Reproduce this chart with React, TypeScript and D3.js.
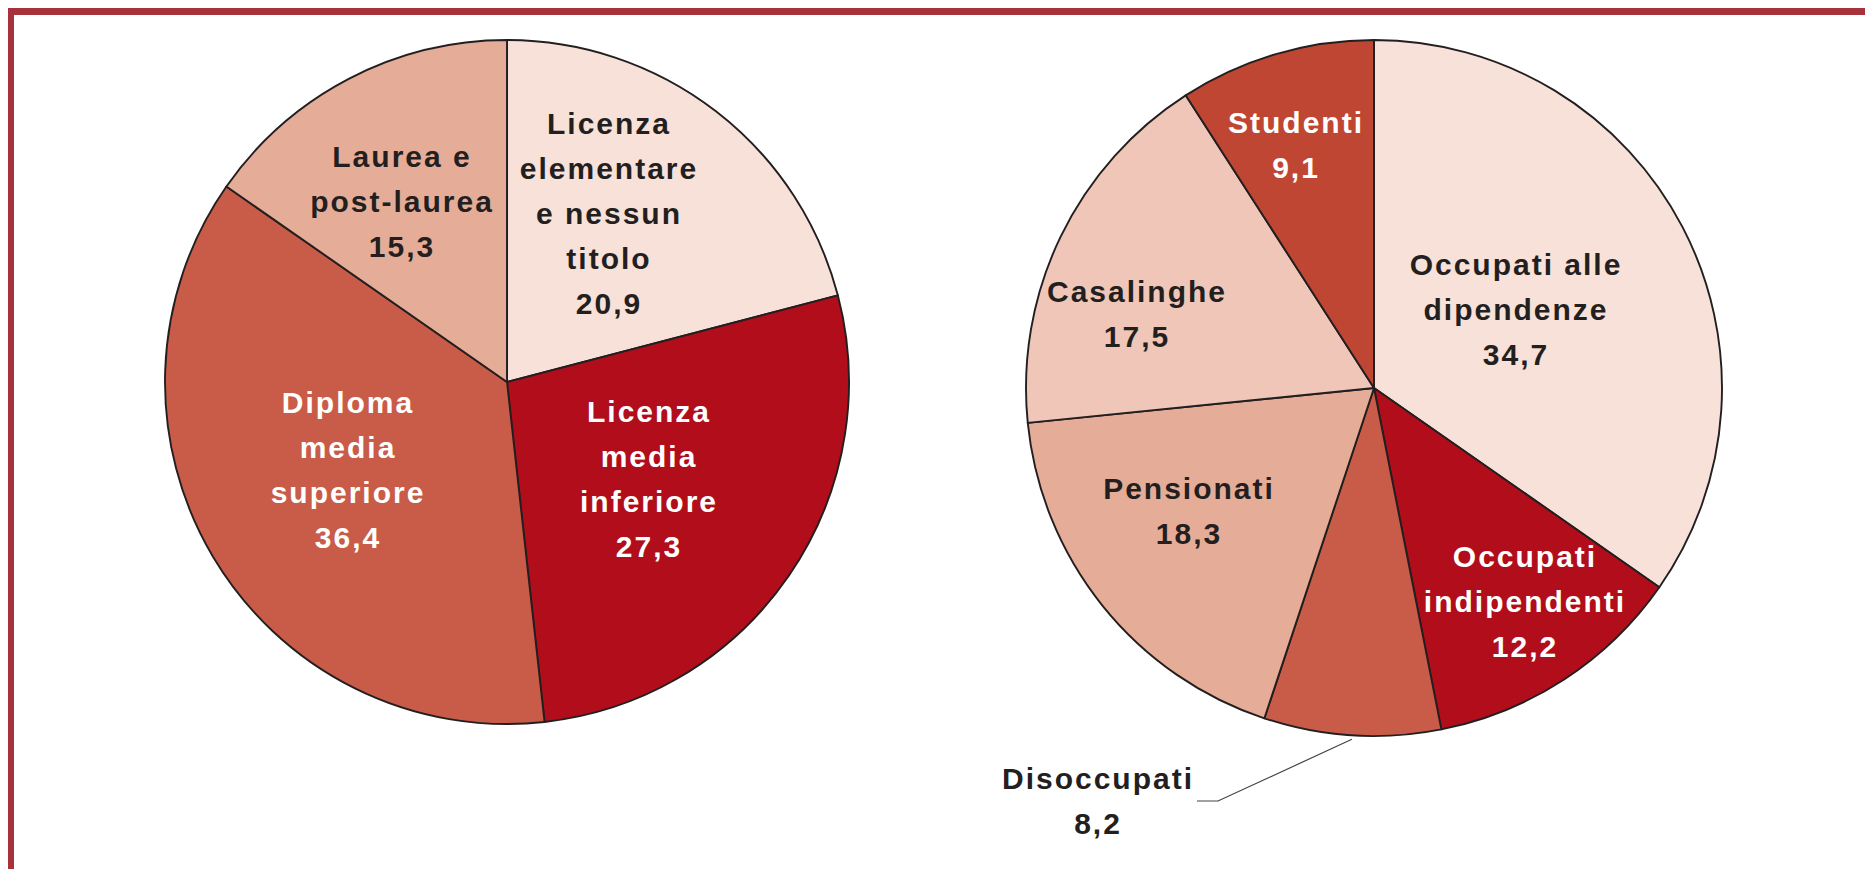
import React from "react";
import * as d3 from "d3";

// ---- Data ----
const eduCategories = [
  "Licenza elementare e nessun titolo",
  "Licenza media inferiore",
  "Diploma media superiore",
  "Laurea e post-laurea",
];
const eduValues = [20.9, 27.3, 36.4, 15.3];
const eduLines = [
  ["Licenza", "elementare", "e nessun", "titolo"],
  ["Licenza", "media", "inferiore"],
  ["Diploma", "media", "superiore"],
  ["Laurea e", "post-laurea"],
];

const condCategories = [
  "Occupati alle dipendenze",
  "Occupati indipendenti",
  "Disoccupati",
  "Pensionati",
  "Casalinghe",
  "Studenti",
];
const condValues = [34.7, 12.2, 8.2, 18.3, 17.5, 9.1];
const condLines = [
  ["Occupati alle", "dipendenze"],
  ["Occupati", "indipendenti"],
  ["Disoccupati"],
  ["Pensionati"],
  ["Casalinghe"],
  ["Studenti"],
];

// ---- Styles / layout ----
const eduColors = ["#f7e1d9", "#b10d1b", "#c95c48", "#e5ad98"];
const eduText = ["#231f20", "#ffffff", "#ffffff", "#231f20"];
// label centre offsets from pie centre (first line)
const eduLabelPos = [
  [102, -259],
  [142, 29],
  [-159, 20],
  [-105, -226],
];

const condColors = ["#f7e1d9", "#b10d1b", "#c95c48", "#e5ad98", "#efc6b8", "#c04634"];
const condText = ["#231f20", "#ffffff", "#231f20", "#231f20", "#231f20", "#ffffff"];
const condLabelPos = [
  [142, -124],
  [151, 168],
  [-276, 390],
  [-185, 100],
  [-237, -97],
  [-78, -266],
];

const fmt = (v: number) => v.toFixed(1).replace(".", ",");

const LINE_H = 45;

function Pie({
  cx,
  cy,
  r,
  values,
  colors,
  textColors,
  lines,
  labelPos,
}: {
  cx: number;
  cy: number;
  r: number;
  values: number[];
  colors: string[];
  textColors: string[];
  lines: string[][];
  labelPos: number[][];
}) {
  const pie = d3.pie<number>().sort(null).value((d) => d);
  const arcs = pie(values);
  const arc = d3.arc<d3.PieArcDatum<number>>().innerRadius(0).outerRadius(r);
  return (
    <g transform={`translate(${cx},${cy})`}>
      {arcs.map((a, i) => (
        <path
          key={i}
          d={arc(a) || ""}
          fill={colors[i]}
          stroke="#231f20"
          strokeWidth={1.9}
          strokeLinejoin="round"
        />
      ))}
      {arcs.map((a, i) => {
        const ls = [...lines[i], fmt(values[i])];
        const [lx, ly] = labelPos[i];
        return (
          <text
            key={"t" + i}
            x={lx}
            y={ly}
            fill={textColors[i]}
            textAnchor="middle"
            fontFamily="'Liberation Sans', Arial, sans-serif"
            fontWeight="bold"
            fontSize={30}
            letterSpacing={2}
          >
            {ls.map((s, j) => (
              <tspan key={j} x={lx} y={ly + j * LINE_H} dy="0.35em">
                {s}
              </tspan>
            ))}
          </text>
        );
      })}
    </g>
  );
}

export default function App() {
  const W = 1865;
  const H = 869;
  const left = { cx: 507, cy: 382, r: 342 };
  const right = { cx: 1374, cy: 388, r: 348 };

  // leader for Disoccupati: from arc edge at slice mid-angle to label
  const pie = d3.pie<number>().sort(null).value((d) => d);
  const disArc = pie(condValues)[2];
  const mid = (disArc.startAngle + disArc.endAngle) / 2;
  const ex = right.cx + Math.sin(mid) * (right.r + 4);
  const ey = right.cy - Math.cos(mid) * (right.r + 4);

  return (
    <div style={{ position: "fixed", left: 0, top: 0, width: W, height: H, background: "#fff" }}>
      <svg width={W} height={H} style={{ display: "block" }}>
        <rect x={0} y={0} width={W} height={H} fill="#ffffff" />
        {/* frame */}
        <rect x={8} y={8} width={W - 8} height={7} fill="#a8323c" />
        <rect x={8} y={8} width={6} height={H - 8} fill="#a8323c" />

        <Pie
          {...left}
          values={eduValues}
          colors={eduColors}
          textColors={eduText}
          lines={eduLines}
          labelPos={eduLabelPos}
        />
        <Pie
          {...right}
          values={condValues}
          colors={condColors}
          textColors={condText}
          lines={condLines}
          labelPos={condLabelPos}
        />
        <polyline
          points={`${right.cx - 177},801 ${right.cx - 156},801 ${ex},${ey}`}
          fill="none"
          stroke="#444"
          strokeWidth={1.2}
        />
      </svg>
    </div>
  );
}
